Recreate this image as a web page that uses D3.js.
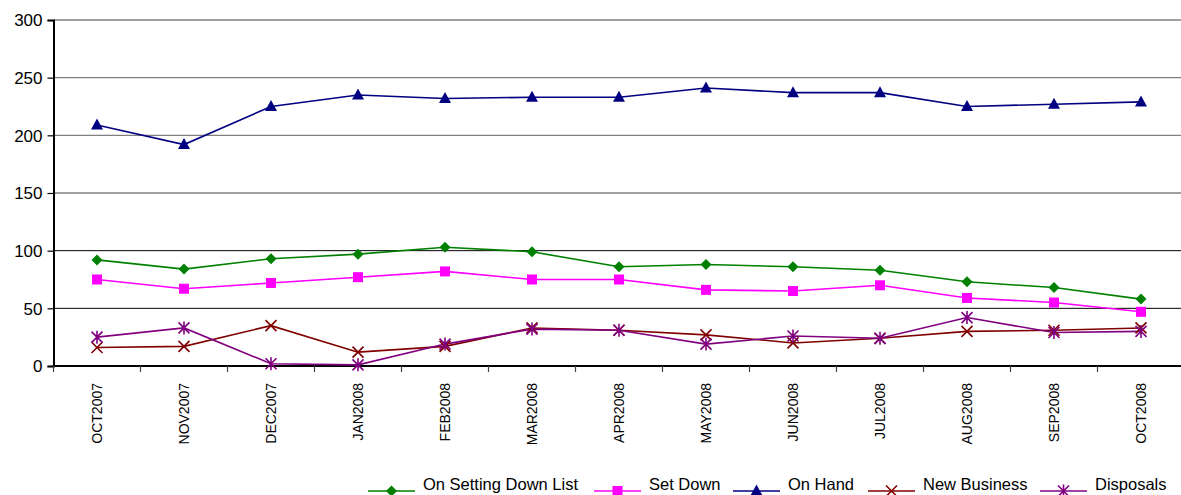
<!DOCTYPE html>
<html><head><meta charset="utf-8">
<script src="https://cdn.jsdelivr.net/npm/d3@7"></script>
<style>body{margin:0;background:#fff}svg{display:block}text{font-family:"Liberation Sans",Arial,sans-serif}</style>
</head><body>
<svg id="c" width="1181" height="495"></svg>
<script>
const categories = ["OCT2007","NOV2007","DEC2007","JAN2008","FEB2008","MAR2008","APR2008","MAY2008","JUN2008","JUL2008","AUG2008","SEP2008","OCT2008"];
const onSettingDownList = [92,84,93,97,103,99,86,88,86,83,73,68,58];
const setDown = [75,67,72,77,82,75,75,66,65,70,59,55,47];
const onHand = [209,192,225,235,232,233,233,241,237,237,225,227,229];
const newBusiness = [16,17,35,12,17,33,31,27,20,24,30,31,33];
const disposals = [25,33,2,1,19,32,31,19,26,24,42,29,30];
const yTicks = [0,50,100,150,200,250,300];
const seriesNames = ["On Setting Down List","Set Down","On Hand","New Business","Disposals"];

const series = [
  {name:seriesNames[0], values:onSettingDownList, color:"#008000", marker:"diamond"},
  {name:seriesNames[1], values:setDown, color:"#FF00FF", marker:"square"},
  {name:seriesNames[2], values:onHand, color:"#000080", marker:"triangle"},
  {name:seriesNames[3], values:newBusiness, color:"#800000", marker:"x"},
  {name:seriesNames[4], values:disposals, color:"#800080", marker:"star"}
];

const svg = d3.select("#c");
const pLeft = 53.5, pRight = 1184.5, pTop = 20, pBottom = 366;
const x = d3.scaleBand().domain(categories).range([pLeft, pRight]).padding(0);
const y = d3.scaleLinear().domain([0,300]).range([pBottom, pTop]);

// gridlines
svg.append("g").selectAll("line").data(yTicks.filter(d=>d>0)).join("line")
  .attr("x1", pLeft).attr("x2", pRight)
  .attr("y1", d=>y(d)).attr("y2", d=>y(d))
  .attr("stroke", d=> d>=150 ? "#808080" : "#000")
  .attr("stroke-width", d=> d>=150 ? 1.4 : 1);

// y axis
const yAxis = d3.axisLeft(y).tickValues(yTicks).tickSize(6).tickPadding(5);
const gy = svg.append("g").attr("transform",`translate(${pLeft},0)`).call(yAxis);
gy.select(".domain").attr("stroke","#000").attr("stroke-width",2);
gy.selectAll(".tick line").attr("stroke","#000").attr("stroke-width",1.2);
gy.selectAll("text").attr("font-size",17).attr("fill","#000").attr("dy","0.35em");

// x axis
const xAxis = d3.axisBottom(x).tickSize(0).tickPadding(0);
const gx = svg.append("g").attr("transform",`translate(0,${pBottom})`).call(xAxis);
gx.select(".domain").remove();
svg.append("line").attr("x1",pLeft-1).attr("x2",pRight).attr("y1",pBottom).attr("y2",pBottom).attr("stroke","#000").attr("stroke-width",2);
// boundary tick marks
svg.append("g").selectAll("line").data(categories).join("line")
  .attr("x1",d=>x(d)).attr("x2",d=>x(d)).attr("y1",pBottom).attr("y2",pBottom+6)
  .attr("stroke","#444").attr("stroke-width",1.2);
gx.selectAll("text")
  .attr("font-size",14).attr("fill","#000")
  .attr("transform","rotate(-90)")
  .attr("text-anchor","end")
  .attr("x",-17).attr("y",0).attr("dy","0.35em");

const cx = d => x(d) + x.bandwidth()/2;

function drawMarker(g, type, color){
  if(type==="diamond"){
    g.append("path").attr("d","M0,-5.5L5.5,0L0,5.5L-5.5,0Z").attr("fill",color);
  } else if(type==="square"){
    g.append("rect").attr("x",-5).attr("y",-5).attr("width",10).attr("height",10).attr("fill",color);
  } else if(type==="triangle"){
    g.append("path").attr("d","M0,-6.5L6,4.5L-6,4.5Z").attr("fill",color);
  } else if(type==="x"){
    g.append("path").attr("d","M-5.5,-5.5L5.5,5.5M-5.5,5.5L5.5,-5.5").attr("stroke",color).attr("stroke-width",1.6).attr("fill","none");
  } else if(type==="star"){
    g.append("path").attr("d","M-5.5,-5.5L5.5,5.5M-5.5,5.5L5.5,-5.5M0,-6.5L0,6.5").attr("stroke",color).attr("stroke-width",1.6).attr("fill","none");
  }
}

const line = d3.line().x((d,i)=>cx(categories[i])).y(d=>y(d));
series.forEach(s=>{
  svg.append("path").attr("d", line(s.values)).attr("fill","none").attr("stroke",s.color).attr("stroke-width",1.6);
});
series.forEach(s=>{
  s.values.forEach((v,i)=>{
    const g = svg.append("g").attr("transform",`translate(${cx(categories[i])},${y(v)})`);
    drawMarker(g, s.marker, s.color);
  });
});

// legend
const legendX = [368, 594, 733, 868, 1040];
const ly = 491;
series.forEach((s,i)=>{
  const lx = legendX[i];
  svg.append("line").attr("x1",lx).attr("x2",lx+47).attr("y1",ly).attr("y2",ly).attr("stroke",s.color).attr("stroke-width",1.6);
  const g = svg.append("g").attr("transform",`translate(${lx+23.5},${ly})`);
  drawMarker(g, s.marker, s.color);
  svg.append("text").attr("x",lx+55).attr("y",ly-1).attr("font-size",16.5).attr("fill","#000").text(s.name);
});
</script>
</body></html>
